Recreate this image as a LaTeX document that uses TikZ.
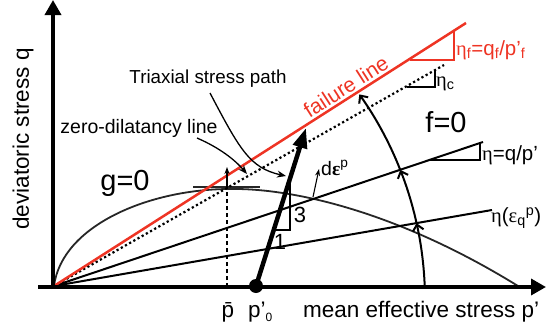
\documentclass[tikz,border=0pt]{standalone}
\usepackage{fontspec}
\setmainfont{Liberation Sans}
\newfontfamily\grk{Liberation Serif}
\usetikzlibrary{arrows.meta,calc}
\definecolor{fred}{RGB}{238,52,36}
\begin{document}
\begin{tikzpicture}[x=1pt,y=-1pt,
  axisline/.style={line width=3.5pt,-{Triangle[length=15pt,width=16pt]}},
  ray/.style={line width=2pt},
  redline/.style={line width=2.5pt,fred},
  dotline/.style={line width=2.2pt,dash pattern=on 2.2pt off 2.6pt},
  tri/.style={line width=2pt},
  thinarrow/.style={line width=1.3pt,-{Stealth[length=9pt,width=7pt]}},
  rotarrow/.style={line width=2pt,-{Straight Barb[length=6pt,width=11pt]}},
  lbl/.style={inner sep=0pt,font=\fontsize{20.5}{22}\selectfont},
  big/.style={inner sep=0pt,font=\fontsize{29}{32}\selectfont},
  axl/.style={inner sep=0pt,font=\fontsize{22.5}{26}\selectfont}]
\useasboundingbox (0,0) rectangle (550,327);

% key points
\coordinate (O) at (54,286);
\coordinate (F) at (466,23);
\coordinate (D) at (444,65);
\coordinate (E) at (483,142);
\coordinate (G) at (492,210);
\coordinate (P0) at (256,286);
\coordinate (T) at (306,128);
\coordinate (C) at (70,300);
\coordinate (xs) at (38,287);
\coordinate (xe) at (546,287);
\coordinate (ys) at (53,289);
\coordinate (ye) at (53,0);

% plastic potential g=0
\coordinate (pk) at (230,189);
\coordinate (gend) at (518,286);
\draw[line width=1.8pt,black!85] (O) .. controls (62,225) and (150,189) .. (pk)
   .. controls (290,188) and (395,210) .. (gend);
\coordinate (tl) at (193,187);
\coordinate (tr) at (260,187);
\draw[line width=1.3pt,black!85] (tl) -- (tr);

% rays
\draw[ray] (O) -- (G);
\draw[ray] (O) -- (E);
\draw[dotline] (O) -- (D);
\draw[redline] (O) -- (F);

% axes
\draw[axisline] (xs) -- (xe);
\draw[axisline] (ys) -- (ye);

% slope triangles
\coordinate (rf1) at (410,60);
\coordinate (rf2) at (454,60);
\coordinate (rf3) at (454,31);
\draw[redline,line width=2.2pt] (rf1) -- (rf2) -- (rf3);
\coordinate (c1) at (407,87);
\coordinate (c2) at (435,87);
\coordinate (c3) at (435,70);
\draw[tri] (c1) -- (c2) -- (c3);
\coordinate (e1) at (430,160);
\coordinate (e2) at (480,160);
\coordinate (e3) at (480,143);
\draw[tri] (e1) -- (e2) -- (e3);
\coordinate (s1) at (273,230);
\coordinate (s2) at (290,230);
\coordinate (s3) at (290,180);
\draw[tri] (s1) -- (s2) -- (s3);

% pbar dashed line
\coordinate (pb0) at (227,287);
\coordinate (pb1) at (227,188);
\coordinate (pb2) at (227,167);
\draw[line width=1.1pt,dash pattern=on 4pt off 3pt] (pb0) -- (pb1);
\draw[line width=1.1pt,-{Stealth[length=7pt,width=5pt]}] (pb1) -- (pb2);

% plastic strain increment
\coordinate (n0) at (313,197);
\coordinate (n1) at (319,169);
\draw[line width=1.1pt,-{Stealth[length=7pt,width=5pt]}] (n0) -- (n1);

% stress path
\draw[line width=4.5pt,-{Triangle[length=20pt,width=14pt]}] (P0) -- (T);
\node[circle,fill,inner sep=0pt,minimum size=14pt] (dot) at (P0) {};

% rotation arcs
\draw[rotarrow] ($(C)+(-2.1:355)$) arc[start angle=-2.1,end angle=-12.5,radius=355];
\draw[rotarrow] ($(C)+(-12.5:355)$) arc[start angle=-12.5,end angle=-21.5,radius=355];
\draw[rotarrow] ($(C)+(-21.5:355)$) arc[start angle=-21.5,end angle=-35.4,radius=355];

% labels
\node[axl,rotate=90] (ql) at (23,139) {deviatoric stress q};
\node[axl,anchor=base west] (pl) at (303,317) {mean effective stress p’};
\node[axl,anchor=base] (pbar) at (228,317) {\=p};
\node[axl,anchor=base west] (p0) at (248,317) {p’\raisebox{-4pt}{\fontsize{12}{12}\selectfont 0}};
\node[big] (g0) at (125,183) {g=0};
\node[big] (f0) at (446,122) {f=0};
\node[lbl,font=\fontsize{18.8}{22}\selectfont] (tsp) at (208,79) {Triaxial stress path};
\node[lbl,font=\fontsize{19.5}{22}\selectfont] (zdl) at (139,128) {zero-dilatancy line};
\node[lbl,font=\fontsize{21}{24}\selectfont,text=fred,rotate=32.6,anchor=south,inner sep=1.5pt] (fl) at (351,94.5) {failure line};
\node[lbl,text=fred,anchor=west] (etaf) at (456,50) {{\grk η}\textsubscript{f}=q\textsubscript{f}/p’\textsubscript{f}};
\node[lbl,anchor=west] (etac) at (436,84) {{\grk η}\textsubscript{c}};
\node[lbl,anchor=west] (eta) at (482,155) {{\grk η}=q/p’};
\node[lbl,anchor=west] (etaq) at (491,218) {{\grk η}({\grk ε}\textsubscript{q}\textsuperscript{p})};
\node[lbl,font=\fontsize{19.5}{22}\selectfont,anchor=west] (deps) at (321,168) {d{\grk\bfseries ε}\textsuperscript{p}};
\node[lbl,font=\fontsize{22}{24}\selectfont] (three) at (300,215) {3};
\node[lbl,font=\fontsize{22}{24}\selectfont] (one) at (280,242) {1};

% label pointers
\draw[thinarrow] (210,93) .. controls (240,150) and (250,168) .. (286,176);
\draw[thinarrow] (197,138) .. controls (220,148) and (235,160) .. (247,174);
\end{tikzpicture}
\end{document}
